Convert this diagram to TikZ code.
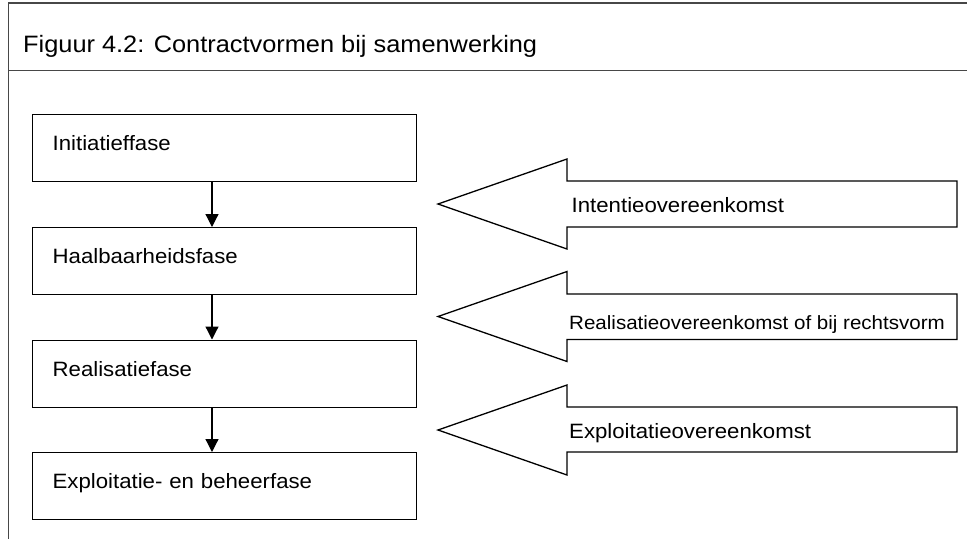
\documentclass[tikz,border=0pt]{standalone}
\usepackage{fontspec}
\setmainfont[FakeStretch=1.07]{Liberation Sans}
\usetikzlibrary{arrows.meta}
\begin{document}
\begin{tikzpicture}[x=1pt,y=-1pt,
  frame/.style={draw=black!72,line width=1.5pt},
  phasebox/.style={draw,line width=1.3pt,anchor=north west,inner xsep=20pt,inner ysep=0pt,
    text width=344pt,align=left,text height=36pt,text depth=31pt,
    font=\fontsize{20.75}{24}\selectfont},
  flow/.style={line width=1.2pt,-{Triangle[length=13pt,width=13pt]}},
  bigarrow/.style={draw,line width=1.3pt,line join=miter},
  arrowtext/.style={anchor=base west,inner sep=0pt,font=\fontsize{20.75}{24}\selectfont},
  smalltext/.style={anchor=base west,inner sep=0pt,font=\fontsize{19.2}{22}\selectfont}]
  \useasboundingbox (0,0) rectangle (967,539);

  % outer frame with title bar
  \draw[frame] (967,3) -- (8.5,3) -- (8.5,539);
  \draw[frame] (8.5,70.5) -- (967,70.5);
  \node[anchor=base west,inner sep=0pt,font=\fontsize{23.7}{28}\selectfont] (title) at (23,52)
    {Figuur 4.2: Contractvormen bij samenwerking};

  % phases
  \node[phasebox] (b1) at (32,114) {Initiatieffase};
  \node[phasebox] (b2) at (32,227) {Haalbaarheidsfase};
  \node[phasebox] (b3) at (32,339.5) {Realisatiefase};
  \node[phasebox] (b4) at (32,452) {Exploitatie- en beheerfase};

  \draw[flow] ([xshift=180pt]b1.south west) -- ([xshift=180pt]b2.north west);
  \draw[flow] ([xshift=180pt]b2.south west) -- ([xshift=180pt]b3.north west);
  \draw[flow] ([xshift=180pt]b3.south west) -- ([xshift=180pt]b4.north west);

  % contract arrows pointing towards the phases
  \draw[bigarrow] (438,204) -- (567,159) -- (567,181) -- (957,181) -- (957,227)
    -- (567,227) -- (567,249) -- cycle;
  \node[arrowtext] (c1) at (571.5,212) {Intentieovereenkomst};

  \draw[bigarrow] (438,316.5) -- (567,271.5) -- (567,294) -- (957,294) -- (957,339.5)
    -- (567,339.5) -- (567,361.5) -- cycle;
  \node[smalltext] (c2) at (569,329) {Realisatieovereenkomst of bij rechtsvorm};

  \draw[bigarrow] (438,430) -- (567,385) -- (567,407) -- (957,407) -- (957,452)
    -- (567,452) -- (567,475) -- cycle;
  \node[arrowtext] (c3) at (569,438) {Exploitatieovereenkomst};
\end{tikzpicture}
\end{document}
